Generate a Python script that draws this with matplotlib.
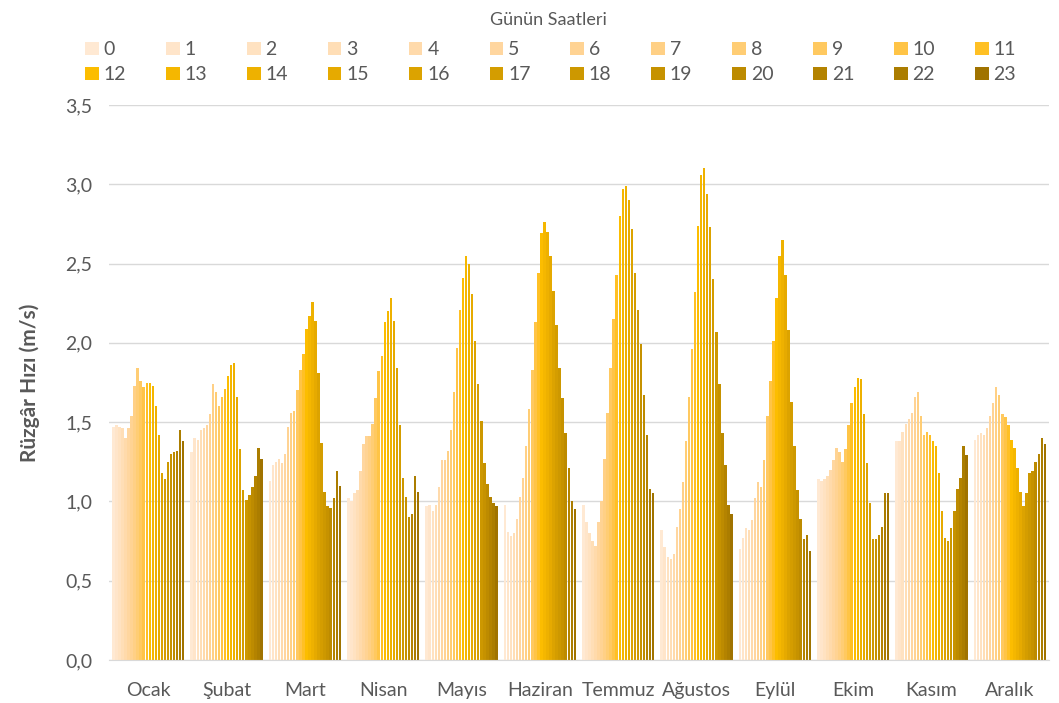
import numpy as np
import matplotlib.pyplot as plt
from matplotlib.patches import Patch

months = ['Ocak', 'Şubat', 'Mart', 'Nisan', 'Mayıs', 'Haziran', 'Temmuz',
          'Ağustos', 'Eylül', 'Ekim', 'Kasım', 'Aralık']
hours = [str(h) for h in range(24)]

# hourly mean wind speed (m/s), one list per month, hours 0..23
ocak = [1.47, 1.48, 1.47, 1.46, 1.40, 1.46, 1.54, 1.73, 1.84, 1.76, 1.72, 1.75,
        1.75, 1.73, 1.60, 1.42, 1.18, 1.14, 1.25, 1.30, 1.31, 1.32, 1.45, 1.38]
subat = [1.31, 1.40, 1.39, 1.45, 1.46, 1.48, 1.55, 1.74, 1.69, 1.60, 1.66, 1.71,
         1.79, 1.86, 1.87, 1.66, 1.33, 1.07, 1.01, 1.04, 1.09, 1.16, 1.34, 1.27]
mart = [1.13, 1.23, 1.25, 1.27, 1.24, 1.30, 1.47, 1.56, 1.57, 1.70, 1.83, 1.93,
        2.09, 2.17, 2.26, 2.14, 1.81, 1.37, 1.06, 0.97, 0.96, 1.02, 1.19, 1.10]
nisan = [1.02, 1.00, 1.05, 1.07, 1.19, 1.36, 1.41, 1.41, 1.49, 1.65, 1.82, 1.92,
         2.13, 2.20, 2.28, 2.14, 1.84, 1.48, 1.15, 1.03, 0.90, 0.92, 1.16, 1.06]
mayis = [0.97, 0.98, 0.94, 0.98, 1.09, 1.26, 1.26, 1.32, 1.45, 1.69, 1.97, 2.21,
         2.41, 2.55, 2.50, 2.31, 2.01, 1.74, 1.51, 1.24, 1.11, 1.03, 0.99, 0.97]
haziran = [0.98, 0.81, 0.78, 0.80, 0.89, 1.03, 1.15, 1.35, 1.58, 1.83, 2.13, 2.44,
           2.69, 2.76, 2.70, 2.55, 2.33, 2.11, 1.84, 1.65, 1.43, 1.21, 1.00, 0.95]
temmuz = [0.98, 0.87, 0.80, 0.75, 0.72, 0.87, 1.00, 1.27, 1.56, 1.84, 2.15, 2.43,
          2.80, 2.97, 2.99, 2.90, 2.72, 2.44, 2.21, 1.99, 1.67, 1.42, 1.08, 1.05]
agustos = [0.82, 0.71, 0.65, 0.64, 0.67, 0.84, 0.95, 1.12, 1.38, 1.66, 1.96, 2.32,
           2.74, 3.06, 3.10, 2.94, 2.73, 2.40, 2.07, 1.74, 1.43, 1.23, 0.98, 0.92]
eylul = [0.70, 0.77, 0.83, 0.82, 0.88, 1.02, 1.12, 1.09, 1.26, 1.54, 1.76, 2.01,
         2.28, 2.55, 2.65, 2.43, 2.08, 1.63, 1.35, 1.07, 0.89, 0.76, 0.79, 0.69]
ekim = [1.14, 1.13, 1.14, 1.16, 1.20, 1.26, 1.34, 1.31, 1.25, 1.33, 1.48, 1.62,
        1.72, 1.78, 1.77, 1.55, 1.24, 0.99, 0.76, 0.76, 0.79, 0.84, 1.05, 1.05]
kasim = [1.38, 1.38, 1.44, 1.49, 1.52, 1.56, 1.66, 1.69, 1.54, 1.42, 1.44, 1.42,
         1.38, 1.35, 1.18, 0.94, 0.77, 0.75, 0.83, 0.94, 1.08, 1.15, 1.35, 1.29]
aralik = [1.39, 1.42, 1.43, 1.42, 1.46, 1.54, 1.62, 1.72, 1.67, 1.55, 1.53, 1.48,
          1.39, 1.34, 1.21, 1.06, 0.97, 1.05, 1.18, 1.19, 1.25, 1.30, 1.40, 1.36]

data = np.array([ocak, subat, mart, nisan, mayis, haziran, temmuz,
                 agustos, eylul, ekim, kasim, aralik])

colors = ['#FFE9D3', '#FFE5CA', '#FFE2C1', '#FFDEB6', '#FFDAAB', '#FFD69F',
          '#FFD393', '#FFD085', '#FFCD74', '#FFC960', '#FFC446', '#FFC024',
          '#FCBD00', '#F5B700', '#EEB100', '#E6AA00', '#DCA300', '#D49D00',
          '#CD9800', '#C69200', '#BD8B00', '#B48300', '#AB7D00', '#A07300']

plt.rcParams['font.family'] = ['Lato', 'DejaVu Sans']
text_color = '#595959'

fig = plt.figure(figsize=(10.59, 7.03), dpi=100)
ax = fig.add_axes([0.103, 0.0612, 0.8876, 0.7894])

x = np.arange(len(months))
group_w = 0.93
slot = group_w / 24
for h in range(24):
    ax.bar(x - group_w / 2 + slot * (h + 0.5), data[:, h], width=slot * 0.8,
           color=colors[h], linewidth=0, zorder=2)

ax.set_xlim(-0.5, len(months) - 0.5)
ax.set_ylim(0, 3.5)
ax.set_yticks(np.arange(0, 3.51, 0.5))
ax.set_yticklabels([f'{v:.1f}'.replace('.', ',') for v in np.arange(0, 3.51, 0.5)])
ax.set_xticks(x)
ax.set_xticklabels(months)
ax.tick_params(axis='both', length=0, labelsize=14, colors=text_color)
ax.tick_params(axis='x', pad=16)
ax.tick_params(axis='y', pad=12)
ax.yaxis.grid(True, color='#D9D9D9', linewidth=1, zorder=0)
for s in ['top', 'right', 'left']:
    ax.spines[s].set_visible(False)
ax.spines['bottom'].set_color('#D9D9D9')
ax.set_ylabel('Rüzgâr Hızı (m/s)', fontsize=15, fontweight='bold',
              color=text_color, labelpad=18)

# legend is filled column by column, so interleave the two rows
handles = [Patch(facecolor=colors[h], label=hours[h]) for h in range(24)]
order = [i for c in range(12) for i in (c, c + 12)]
fig.text(0.518, 0.972, 'Günün Saatleri', ha='center', va='center',
         fontsize=13, color=text_color)
leg = fig.legend([handles[i] for i in order], [hours[i] for i in order],
                 loc='upper center', bbox_to_anchor=(0.520, 0.955), ncol=12,
                 frameon=False, fontsize=14, handlelength=0.7, handleheight=0.7,
                 handletextpad=0.25, columnspacing=2.05, labelspacing=0.4,
                 borderpad=0)
for t in leg.get_texts():
    t.set_color(text_color)

fig.savefig('out.png', dpi=100)
